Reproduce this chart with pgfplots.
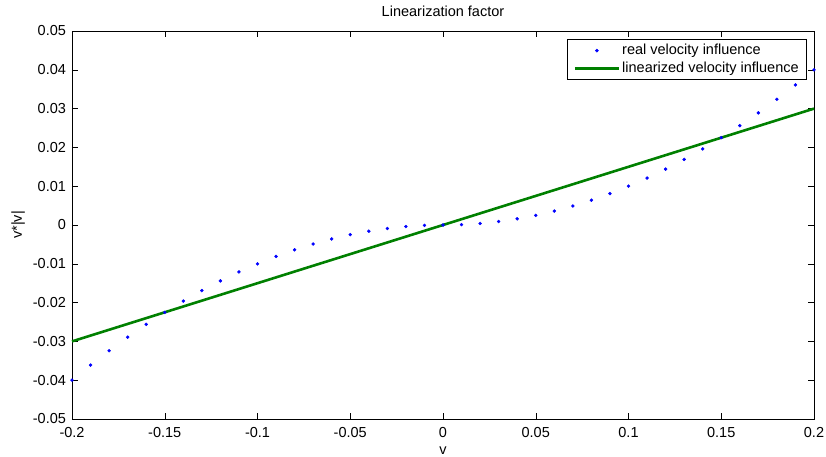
\documentclass[border=0pt]{standalone}
\usepackage{fontspec}
\setmainfont{Liberation Sans}
\usepackage{pgfplots}
\pgfplotsset{compat=1.18}
\definecolor{mgreen}{rgb}{0,0.5,0}
\begin{document}
\fontsize{14.5bp}{17bp}\selectfont
\begin{tikzpicture}
\useasboundingbox (-72bp,-38bp) rectangle (754bp,419bp);
\begin{axis}[
  at={(0,0)}, anchor=south west,
  scale only axis, width=742bp, height=388bp,
  xmin=-0.2, xmax=0.2, ymin=-0.05, ymax=0.05,
  scaled x ticks=false, scaled y ticks=false,
  xtick={-0.2,-0.15,-0.1,-0.05,0,0.05,0.1,0.15,0.2},
  xticklabels={-0.2,-0.15,-0.1,-0.05,0,0.05,0.1,0.15,0.2},
  ytick={-0.05,-0.04,-0.03,-0.02,-0.01,0,0.01,0.02,0.03,0.04,0.05},
  yticklabels={-0.05,-0.04,-0.03,-0.02,-0.01,0,0.01,0.02,0.03,0.04,0.05},
  tick align=inside, major tick length=6bp,
  every tick/.style={black, line width=0.5pt},
  axis line style={line width=0.6pt},
  ticklabel style={font=\fontsize{14.5bp}{17bp}\selectfont},
  xticklabel style={yshift=-3bp},
  yticklabel style={xshift=-1bp},
  title={Linearization factor},
  title style={font=\fontsize{14.5bp}{17bp}\selectfont, at={(0.5,1)}, anchor=south, yshift=3bp},
  xlabel={v},
  ylabel={v*|v|},
  xlabel style={font=\fontsize{14.5bp}{17bp}\selectfont, yshift=0bp},
  ylabel style={font=\fontsize{14.5bp}{17bp}\selectfont, yshift=-2bp},
  legend style={at={(1,1)}, anchor=north east, xshift=-7bp, yshift=-8bp,
    font=\fontsize{14.5bp}{17bp}\selectfont, draw=black, line width=0.6pt,
    inner xsep=6bp, inner ysep=3bp, row sep=1bp, legend cell align=left},
  clip=false,
]
\addplot[only marks, mark=*, mark size=1.5bp, color=blue,
  legend image code/.code={\fill[blue] (22bp,0cm) circle (1.5bp);}]
coordinates {
(-0.20,-0.0400) (-0.19,-0.0361) (-0.18,-0.0324) (-0.17,-0.0289) (-0.16,-0.0256)
(-0.15,-0.0225) (-0.14,-0.0196) (-0.13,-0.0169) (-0.12,-0.0144) (-0.11,-0.0121)
(-0.10,-0.0100) (-0.09,-0.0081) (-0.08,-0.0064) (-0.07,-0.0049) (-0.06,-0.0036)
(-0.05,-0.0025) (-0.04,-0.0016) (-0.03,-0.0009) (-0.02,-0.0004) (-0.01,-0.0001)
(0.00,0.0000)
(0.01,0.0001) (0.02,0.0004) (0.03,0.0009) (0.04,0.0016) (0.05,0.0025)
(0.06,0.0036) (0.07,0.0049) (0.08,0.0064) (0.09,0.0081) (0.10,0.0100)
(0.11,0.0121) (0.12,0.0144) (0.13,0.0169) (0.14,0.0196) (0.15,0.0225)
(0.16,0.0256) (0.17,0.0289) (0.18,0.0324) (0.19,0.0361) (0.20,0.0400)
};
\addlegendentry{real velocity influence}
\addplot[color=mgreen, line width=2.6bp,
  legend image code/.code={\draw[mgreen, line width=2.6bp] (0cm,0cm) -- (44bp,0cm);}]
coordinates {(-0.2,-0.03) (0.2,0.03)};
\addlegendentry{linearized velocity influence}
\end{axis}
\end{tikzpicture}
\end{document}
